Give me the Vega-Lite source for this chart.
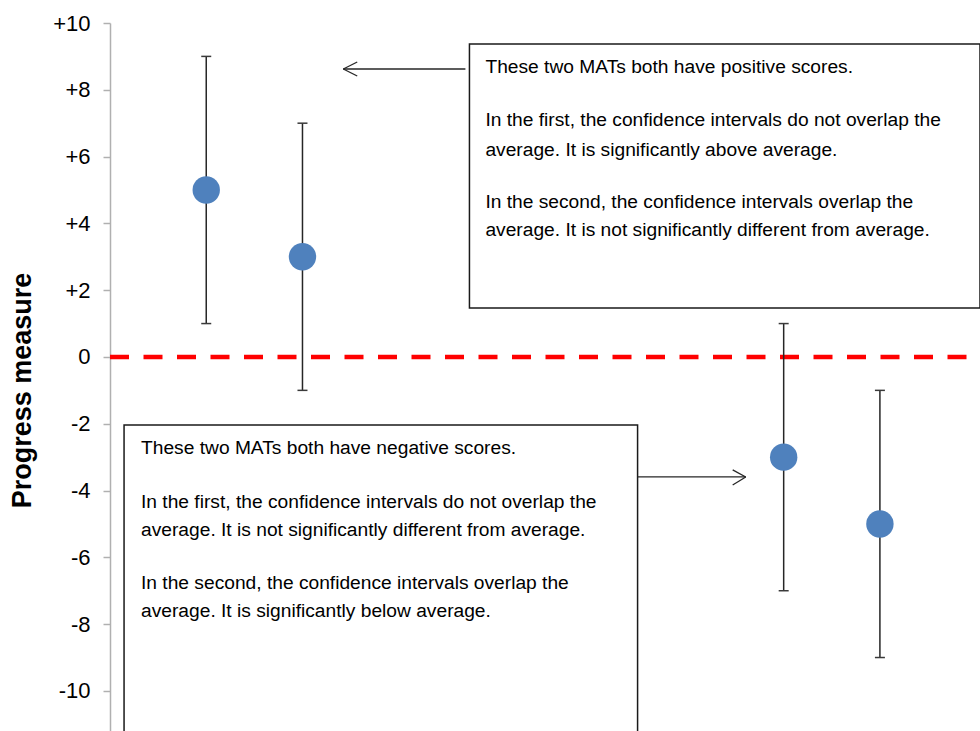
{
  "$schema": "https://vega.github.io/schema/vega-lite/v6.json",
  "autosize": "none",
  "width": 870,
  "height": 708,
  "padding": {"left": 110, "top": 23, "right": 0, "bottom": 0},
  "background": "white",
  "config": {"view": {"stroke": null}},
  "datasets": {
    "mats": [
      {"mat": "MAT 1", "x": 1, "y": 5, "low": 1, "high": 9},
      {"mat": "MAT 2", "x": 2, "y": 3, "low": -1, "high": 7},
      {"mat": "MAT 3", "x": 7, "y": -3, "low": -7, "high": 1},
      {"mat": "MAT 4", "x": 8, "y": -5, "low": -9, "high": -1}
    ],
    "boxes": [
      {"box": "positive", "x": 3.735, "x2": 9.04, "y": 9.371, "y2": 1.467},
      {"box": "negative", "x": 0.146, "x2": 5.482, "y": -2.036, "y2": -12}
    ],
    "arrows": [
      {"part": "shaft1", "x": 3.693, "y": 8.623, "x2": 2.424, "y2": 8.623},
      {"part": "head1a", "x": 2.424, "y": 8.623, "x2": 2.569, "y2": 8.832},
      {"part": "head1b", "x": 2.424, "y": 8.623, "x2": 2.569, "y2": 8.413},
      {"part": "shaft2", "x": 5.482, "y": -3.593, "x2": 6.606, "y2": -3.593},
      {"part": "head2a", "x": 6.606, "y": -3.593, "x2": 6.47, "y2": -3.383},
      {"part": "head2b", "x": 6.606, "y": -3.593, "x2": 6.47, "y2": -3.832}
    ],
    "notes": [
      {"x": 3.901, "y": 8.683, "text": "These two MATs  both have positive scores."},
      {"x": 3.901, "y": 7.096, "text": "In the first, the confidence intervals do not overlap the"},
      {"x": 3.901, "y": 6.198, "text": "average.  It is significantly above average."},
      {"x": 3.901, "y": 4.641, "text": "In the second, the confidence intervals overlap the"},
      {"x": 3.901, "y": 3.802, "text": "average.  It is not significantly different from average."},
      {"x": 0.3225, "y": -2.725, "text": "These two MATs  both have negative scores."},
      {"x": 0.3225, "y": -4.341, "text": "In the first, the confidence intervals do not overlap the"},
      {"x": 0.3225, "y": -5.18, "text": "average.  It is not significantly different from average."},
      {"x": 0.3225, "y": -6.766, "text": "In the second, the confidence intervals overlap the"},
      {"x": 0.3225, "y": -7.605, "text": "average.  It is significantly below average."}
    ],
    "average": [{"y": 0, "x": 0, "x2": 9.05}]
  },
  "layer": [
    {
      "data": {"name": "average"},
      "mark": {"type": "rule", "color": "#FF0000", "strokeWidth": 4.5, "strokeDash": [19, 14.5]},
      "encoding": {
        "x": {"field": "x", "type": "quantitative", "scale": {"domain": [0, 9.04], "nice": false, "zero": false}, "axis": null},
        "x2": {"field": "x2"},
        "y": {
          "field": "y", "type": "quantitative",
          "scale": {"domain": [-11.2, 10], "nice": false, "zero": false},
          "axis": {
            "values": [-10, -8, -6, -4, -2, 0, 2, 4, 6, 8, 10],
            "labelExpr": "(datum.value > 0 ? '+' : (datum.value < 0 ? '-' : '')) + abs(datum.value)",
            "labelFont": "Liberation Sans",
            "labelFontSize": 22,
            "labelColor": "#000000",
            "labelPadding": 13,
            "tickSize": 7,
            "tickColor": "#B0B0B0",
            "tickWidth": 1.5,
            "domainColor": "#B0B0B0",
            "domainWidth": 1.5,
            "grid": false,
            "title": "Progress measure",
            "titleFont": "Liberation Sans",
            "titleFontSize": 27,
            "titleFontWeight": "bold",
            "titleColor": "#000000",
            "titleAngle": -90,
            "titleAlign": "center",
            "titleBaseline": "middle",
            "titleX": -87.5,
            "titleY": 367
          }
        }
      }
    },
    {
      "data": {"name": "boxes"},
      "mark": {"type": "rect", "fill": "white", "stroke": "#1a1a1a", "strokeWidth": 1.5},
      "encoding": {
        "x": {"field": "x", "type": "quantitative", "axis": null},
        "x2": {"field": "x2"},
        "y": {"field": "y", "type": "quantitative"},
        "y2": {"field": "y2"}
      }
    },
    {
      "data": {"name": "mats"},
      "mark": {"type": "rule", "color": "#262626", "strokeWidth": 1.5},
      "encoding": {
        "x": {"field": "x", "type": "quantitative", "axis": null},
        "y": {"field": "low", "type": "quantitative"},
        "y2": {"field": "high"}
      }
    },
    {
      "data": {"name": "mats"},
      "mark": {"type": "tick", "orient": "horizontal", "color": "#3a3a3a", "size": 10, "thickness": 1.5, "opacity": 1},
      "encoding": {
        "x": {"field": "x", "type": "quantitative", "axis": null},
        "y": {"field": "low", "type": "quantitative"}
      }
    },
    {
      "data": {"name": "mats"},
      "mark": {"type": "tick", "orient": "horizontal", "color": "#3a3a3a", "size": 10, "thickness": 1.5, "opacity": 1},
      "encoding": {
        "x": {"field": "x", "type": "quantitative", "axis": null},
        "y": {"field": "high", "type": "quantitative"}
      }
    },
    {
      "data": {"name": "mats"},
      "mark": {"type": "circle", "color": "#4F81BD", "size": 750, "opacity": 1},
      "encoding": {
        "x": {"field": "x", "type": "quantitative", "axis": null},
        "y": {"field": "y", "type": "quantitative"}
      }
    },
    {
      "data": {"name": "arrows"},
      "mark": {"type": "rule", "color": "#262626", "strokeWidth": 1.3},
      "encoding": {
        "x": {"field": "x", "type": "quantitative", "axis": null},
        "x2": {"field": "x2"},
        "y": {"field": "y", "type": "quantitative"},
        "y2": {"field": "y2"}
      }
    },
    {
      "data": {"name": "notes"},
      "mark": {"type": "text", "align": "left", "baseline": "middle", "font": "Liberation Sans", "fontSize": 19.2, "color": "#000000"},
      "encoding": {
        "x": {"field": "x", "type": "quantitative", "axis": null},
        "y": {"field": "y", "type": "quantitative"},
        "text": {"field": "text"}
      }
    }
  ]
}
